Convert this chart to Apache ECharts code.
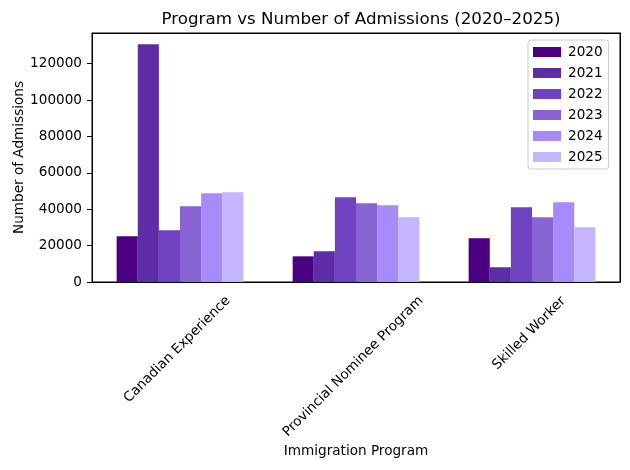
<!DOCTYPE html>
<html>
<head>
<meta charset="utf-8">
<script src="https://cdn.jsdelivr.net/npm/echarts@6/dist/echarts.min.js"></script>
<style>html,body{margin:0;padding:0;background:#fff;}#c{width:630px;height:470px;}</style>
</head>
<body>
<div id="c"></div>
<script>
const categories = ['Canadian Experience', 'Provincial Nominee Program', 'Skilled Worker'];
const years = ['2020', '2021', '2022', '2023', '2024', '2025'];
const v2020 = [25100, 14100, 24000];
const v2021 = [130600, 16900, 8100];
const v2022 = [28400, 46500, 41000];
const v2023 = [41600, 43200, 35600];
const v2024 = [48800, 42100, 43800];
const v2025 = [49300, 35600, 30100];
const yTicks = [0, 20000, 40000, 60000, 80000, 100000, 120000];

const values = [v2020, v2021, v2022, v2023, v2024, v2025];
const colors = ['#4B0082', '#5E2CA5', '#6F42C1', '#8A63D2', '#A78BFA', '#C4B5FD'];
const FONT = 'DejaVu Sans';
const FS = 13.6;

const labelPad = { 'Canadian Experience': 80, 'Provincial Nominee Program': 104, 'Skilled Worker': 57 };
const rich = {};
categories.forEach((c, i) => {
  rich['l' + i] = { fontFamily: FONT, fontSize: FS, color: '#000', padding: [labelPad[c] - 4, labelPad[c] + 4, 0, 0] };
});

const chart = echarts.init(document.getElementById('c'), null, { renderer: 'canvas' });
chart.setOption({
  animation: false,
  backgroundColor: '#fff',
  title: {
    text: 'Program vs Number of Admissions (2020–2025)',
    left: 356, top: 6, textAlign: 'center',
    textStyle: { fontFamily: FONT, fontSize: 16.7, fontWeight: 'normal', color: '#000' }
  },
  legend: {
    orient: 'vertical',
    left: 528, top: 40,
    padding: [5, 6, 5, 5],
    itemWidth: 28, itemHeight: 10, itemGap: 7,
    borderColor: '#cccccc', borderWidth: 1, borderRadius: 3,
    backgroundColor: 'rgba(255,255,255,0.8)',
    textStyle: { fontFamily: FONT, fontSize: FS, color: '#000', padding: [0, 0, 0, 2] },
    data: years,
    icon: 'rect'
  },
  grid: {
    left: 92, right: 10, top: 33, bottom: 188, containLabel: false, outerBoundsMode: 'none',
    show: true, borderColor: '#000', borderWidth: 1, backgroundColor: 'rgba(0,0,0,0)'
  },
  xAxis: [{
    type: 'category',
    data: categories,
    name: 'Immigration Program',
    nameLocation: 'middle',
    nameGap: 162,
    nameMoveOverlap: false,
    nameTextStyle: { fontFamily: FONT, fontSize: FS, color: '#000' },
    axisLine: { lineStyle: { color: '#000', width: 1 } },
    axisTick: { alignWithLabel: true, length: 5, lineStyle: { color: '#000' } },
    axisLabel: {
      rotate: 45, margin: 11, align: 'center', verticalAlign: 'middle',
      formatter: (v) => '{l' + categories.indexOf(v) + '|' + v + '}',
      rich: rich,
      fontFamily: FONT, fontSize: FS, color: '#000'
    }
  }, {
    type: 'category',
    data: categories,
    position: 'top',
    axisLine: { show: true, onZero: false, lineStyle: { color: '#000', width: 1 } },
    axisTick: { show: false },
    axisLabel: { show: false }
  }],
  yAxis: [{
    type: 'value',
    min: 0, max: 136800, interval: 20000,
    name: 'Number of Admissions',
    nameLocation: 'middle',
    nameGap: 66,
    nameMoveOverlap: false,
    nameTextStyle: { fontFamily: FONT, fontSize: FS, color: '#000' },
    axisLine: { show: true, lineStyle: { color: '#000', width: 1 } },
    axisTick: { show: true, length: 5, customValues: yTicks, lineStyle: { color: '#000' } },
    axisLabel: { customValues: yTicks, margin: 10, fontFamily: FONT, fontSize: FS, color: '#000', formatter: (v) => String(v) },
    splitLine: { show: false }
  }, {
    type: 'value',
    min: 0, max: 136800,
    position: 'right',
    axisLine: { show: true, onZero: false, lineStyle: { color: '#000', width: 1 } },
    axisTick: { show: false },
    axisLabel: { show: false },
    splitLine: { show: false }
  }],
  series: years.map((y, i) => ({
    name: y,
    type: 'bar',
    data: values[i],
    barGap: 0,
    barCategoryGap: '28%',
    itemStyle: { color: colors[i] }
  }))
});
</script>
</body>
</html>
